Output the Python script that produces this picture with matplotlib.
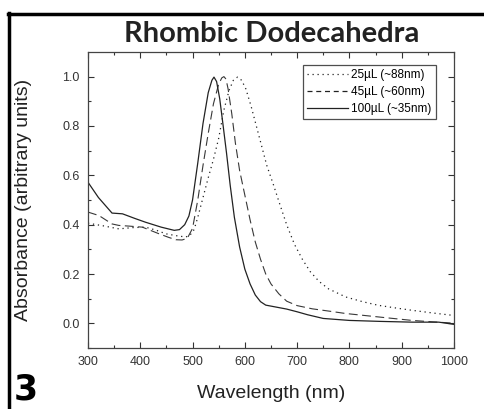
import matplotlib
matplotlib.use("Agg")
import matplotlib.pyplot as plt
from matplotlib.lines import Line2D

# 25 uL (~88 nm) - dotted
wl_25 = [300, 330, 359, 385, 410, 430, 449, 470, 487, 495, 503, 510, 520, 530, 540,
         550, 560, 570, 578, 586, 594, 602, 612, 622, 632, 642, 655, 665, 680, 695,
         710, 725, 742, 760, 793, 825, 856, 890, 920, 960, 1000]
abs_25 = [0.406, 0.395, 0.383, 0.388, 0.39, 0.378, 0.363, 0.355, 0.35, 0.357, 0.38,
          0.43, 0.51, 0.59, 0.665, 0.75, 0.865, 0.945, 0.985, 0.998, 0.985, 0.95,
          0.88, 0.80, 0.72, 0.64, 0.56, 0.495, 0.40, 0.32, 0.26, 0.21, 0.17, 0.14,
          0.107, 0.088, 0.073, 0.062, 0.053, 0.042, 0.032]

# 45 uL (~60 nm) - dashed
wl_45 = [300, 321, 346, 359, 380, 404, 436, 455, 468, 480, 490, 500, 510, 520, 530,
         540, 550, 556, 560, 564, 568, 575, 582, 590, 600, 610, 620, 630, 640, 650,
         665, 680, 700, 729, 760, 793, 856, 920, 960, 1000]
abs_45 = [0.451, 0.437, 0.403, 0.397, 0.394, 0.39, 0.363, 0.348, 0.339, 0.338, 0.345,
          0.385, 0.50, 0.64, 0.77, 0.89, 0.97, 0.995, 1.0, 0.99, 0.95, 0.85, 0.73,
          0.62, 0.52, 0.42, 0.33, 0.26, 0.20, 0.16, 0.12, 0.09, 0.072, 0.059, 0.05,
          0.04, 0.026, 0.012, 0.006, 0.001]

# 100 uL (~35 nm) - solid
wl_100 = [300, 320, 346, 366, 390, 410, 440, 465, 475, 485, 493, 500, 510, 520, 530,
          537, 541, 546, 552, 558, 565, 572, 580, 590, 600, 610, 620, 630, 640, 660,
          680, 700, 720, 750, 800, 860, 920, 971, 1000]
abs_100 = [0.572, 0.51, 0.447, 0.444, 0.425, 0.41, 0.39, 0.377, 0.38, 0.40, 0.435,
           0.50, 0.65, 0.81, 0.935, 0.985, 0.998, 0.98, 0.91, 0.81, 0.69, 0.56, 0.43,
           0.31, 0.22, 0.16, 0.115, 0.088, 0.074, 0.066, 0.058, 0.047, 0.035, 0.02,
           0.012, 0.008, 0.005, 0.005, -0.004]

labels = ["25\u00b5L (~88nm)", "45\u00b5L (~60nm)", "100\u00b5L (~35nm)"]

plt.rcParams['font.family'] = ['Liberation Sans', 'DejaVu Sans']

fig = plt.figure(figsize=(4.85, 4.09), dpi=100)
ax = fig.add_axes([0.1814, 0.149, 0.7546, 0.724])

col = '#222222'
ax.plot(wl_25, abs_25, color=col, lw=0.9, linestyle=(0, (1, 3)))
ax.plot(wl_45, abs_45, color='#383838', lw=0.8, linestyle=(0, (8, 4)))
ax.plot(wl_100, abs_100, color=col, lw=0.9, linestyle='-')

ax.set_xlim(300, 1000)
ax.set_ylim(-0.1, 1.1)
ax.set_xticks(range(300, 1001, 100))
ax.set_xticks(range(350, 1000, 100), minor=True)
ax.set_yticks([0.0, 0.2, 0.4, 0.6, 0.8, 1.0])
ax.set_yticks([-0.1, 0.1, 0.3, 0.5, 0.7, 0.9], minor=True)
ax.yaxis.set_major_formatter(matplotlib.ticker.FormatStrFormatter('%.1f'))
ax.tick_params(which='both', direction='in', top=True, right=True,
               labelsize=9, colors='#333333', width=0.8)
ax.tick_params(which='major', length=4, pad=6)
ax.tick_params(which='minor', length=2.5)
for sp in ax.spines.values():
    sp.set_color('#444444')
    sp.set_linewidth(0.9)

ax.set_xlabel("Wavelength (nm)", fontsize=14, color='#222222', labelpad=12)
ax.set_ylabel("Absorbance (arbitrary units)", fontsize=14, color='#222222', labelpad=22)

handles = [Line2D([], [], color=col, lw=0.9, linestyle=(0, (1, 3))),
           Line2D([], [], color=col, lw=0.9, linestyle=(0, (4, 3))),
           Line2D([], [], color=col, lw=0.9, linestyle='-')]
leg = ax.legend(handles, labels, loc='upper right', bbox_to_anchor=(0.95, 0.955),
                fontsize=8.5, frameon=True, fancybox=False, handlelength=3.4,
                handletextpad=0.3, borderpad=0.35, labelspacing=0.4,
                borderaxespad=0)
leg.get_frame().set_edgecolor('#222222')
leg.get_frame().set_linewidth(0.9)

fig.text(0.56, 0.918, "Rhombic Dodecahedra", fontsize=21, fontweight='bold',
         family='Lato', ha='center', va='center', color='#222222')
fig.text(0.028, 0.047, "3", fontsize=25, fontweight='heavy', family='DejaVu Sans',
         ha='left', va='center', color='black')

# frame lines on left and top of the figure
fig.add_artist(Line2D([0.019, 0.019], [0.0, 0.968], color='black', lw=2.5,
                      transform=fig.transFigure))
fig.add_artist(Line2D([0.017, 1.0], [0.966, 0.966], color='black', lw=2.5,
                      transform=fig.transFigure))

fig.savefig("out.png", dpi=100)
